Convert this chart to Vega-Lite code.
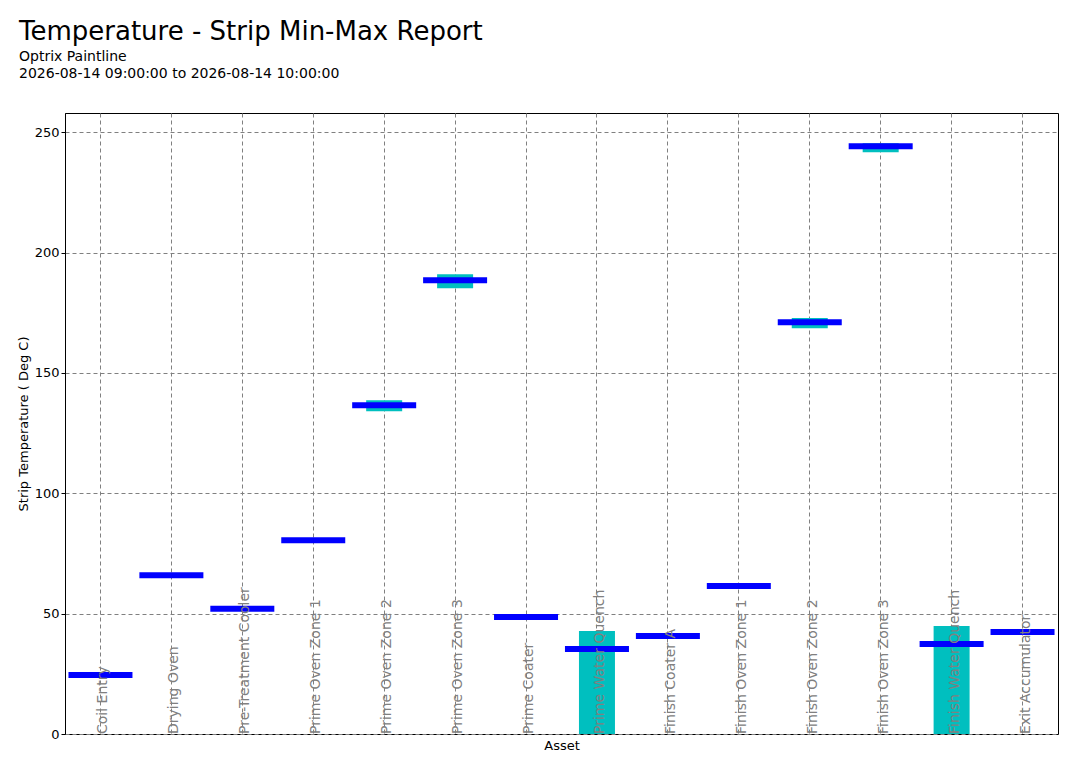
{
  "$schema": "https://vega.github.io/schema/vega-lite/v6.json",
  "autosize": "none",
  "width": 993,
  "height": 621,
  "padding": {"left": 65, "top": 113, "right": 23, "bottom": 30},
  "config": {"font": "DejaVu Sans", "view": {"stroke": "black", "strokeWidth": 1}},
  "title": {
    "text": "Temperature - Strip Min-Max Report",
    "subtitle": ["Optrix Paintline", "2026-08-14 09:00:00 to 2026-08-14 10:00:00"],
    "anchor": "start", "frame": "group", "dx": -46, "offset": 32,
    "fontSize": 26, "fontWeight": "normal", "color": "black",
    "subtitleFontSize": 14, "subtitleColor": "black", "subtitlePadding": 5, "subtitleLineHeight": 17
  },
  "data": {"values": [
    {"asset": "Coil Entry", "min": 24, "max": 25, "avg": 24.5},
    {"asset": "Drying Oven", "min": 65, "max": 66.5, "avg": 66},
    {"asset": "Pre-Treatment Cooler", "min": 51.7, "max": 52.3, "avg": 52},
    {"asset": "Prime Oven Zone 1", "min": 80.2, "max": 80.8, "avg": 80.5},
    {"asset": "Prime Oven Zone 2", "min": 134.1, "max": 138.7, "avg": 136.6},
    {"asset": "Prime Oven Zone 3", "min": 185.2, "max": 191, "avg": 188.5},
    {"asset": "Prime Coater", "min": 48.3, "max": 48.9, "avg": 48.6},
    {"asset": "Prime Water Quench", "min": 0, "max": 42.8, "avg": 35.3},
    {"asset": "Finish Coater A", "min": 40.4, "max": 41, "avg": 40.7},
    {"asset": "Finish Oven Zone 1", "min": 61.2, "max": 61.8, "avg": 61.5},
    {"asset": "Finish Oven Zone 2", "min": 168.6, "max": 172.8, "avg": 171.1},
    {"asset": "Finish Oven Zone 3", "min": 241.7, "max": 245.4, "avg": 244.2},
    {"asset": "Finish Water Quench", "min": 0, "max": 44.9, "avg": 37.4},
    {"asset": "Exit Accumulator", "min": 42.1, "max": 42.7, "avg": 42.4}
  ]},
  "encoding": {
    "x": {"field": "asset", "type": "nominal", "sort": null, "title": "Asset",
      "scale": {"paddingInner": 0, "paddingOuter": 0},
      "axis": {"labels": false, "ticks": false, "domain": false, "grid": true, "bandPosition": 0.5,
        "gridColor": "gray", "gridDash": [4, 3], "gridOpacity": 1,
        "titleFontSize": 13, "titleFontWeight": "normal", "titlePadding": 5, "titleColor": "black"}}
  },
  "layer": [
    {
      "mark": {"type": "bar", "color": "#00BFBF", "width": 36},
      "encoding": {
        "y": {"field": "min", "type": "quantitative", "title": "Strip Temperature ( Deg C)",
          "scale": {"domain": [0, 258], "nice": false},
          "axis": {"values": [0, 50, 100, 150, 200, 250], "grid": true, "gridColor": "gray", "gridDash": [4, 3], "gridOpacity": 1,
            "tickColor": "black", "domainColor": "black", "labelColor": "black", "labelFontSize": 13, "tickSize": 4,
            "titleFontSize": 13, "titleFontWeight": "normal", "titleColor": "black"}},
        "y2": {"field": "max"}
      }
    },
    {
      "mark": {"type": "tick", "color": "#0000FF", "size": 64, "thickness": 6, "opacity": 1},
      "encoding": {"y": {"field": "avg", "type": "quantitative"}}
    },
    {
      "mark": {"type": "text", "angle": 270, "align": "left", "baseline": "top", "dy": -4, "fontSize": 14, "color": "gray"},
      "encoding": {"y": {"datum": 0}, "text": {"field": "asset"}}
    }
  ]
}
